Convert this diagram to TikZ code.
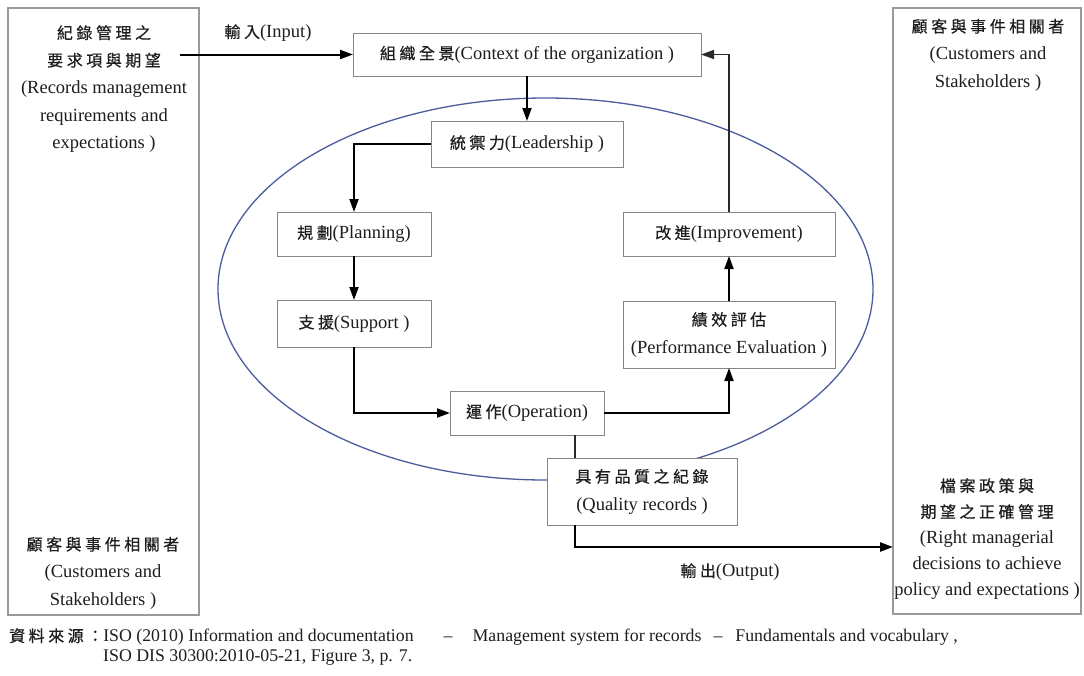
\documentclass[tikz,border=0pt]{standalone}
\usepackage{fontspec}
\setmainfont{Liberation Serif}
\newfontfamily\cjkfont[LetterSpace=22,FakeBold=0.6]{Noto Sans CJK TC}
\newcommand\zh[1]{{\cjkfont\fontsize{16}{27}\selectfont #1}}
\usetikzlibrary{arrows.meta,calc}
\definecolor{ink}{HTML}{1E1E1E}
\definecolor{boxgray}{HTML}{858585}
\definecolor{sidegray}{HTML}{9A9A9A}
\definecolor{ringblue}{HTML}{4D5C9E}
\definecolor{linegray}{HTML}{2A2A2A}

\begin{document}
\begin{tikzpicture}[x=1pt,y=-1pt,
  every node/.style={text=ink, font=\fontsize{18.5}{27.5}\selectfont},
  stepbox/.style={draw=boxgray, line width=1pt, fill=white, inner sep=0pt, outer sep=0pt, align=center},
  sidebox/.style={draw=sidegray, line width=1.4pt, inner sep=0pt, outer sep=0pt},
  flow/.style={draw=black, line width=2pt, -{Triangle[length=13pt,width=9pt]}},
  thinflow/.style={draw=linegray, line width=1.5pt, -{Triangle[length=13pt,width=9pt]}},
  thinline/.style={draw=linegray, line width=1.2pt},
  label/.style={align=center, inner sep=0pt},
  srcline/.style={anchor=west, inner sep=0pt, font=\fontsize{17.8}{20}\selectfont}]

\useasboundingbox (0,0) rectangle (1084,675);
\fill[white] (0,0) rectangle (1084,675);

% the management cycle ring
\draw[ringblue, line width=1.3pt] (545.5,289) ellipse [x radius=327.5, y radius=191];

% side panels
\node[sidebox, minimum width=191pt, minimum height=607pt] (leftbox) at (103.5,311.5) {};
\node[sidebox, minimum width=188pt, minimum height=606pt] (rightbox) at (987,311) {};

\node[label] (reqtxt) at (104,89) {\zh{紀錄管理之}\\\zh{要求項與期望}\\(Records management\\requirements and\\expectations )};
\node[label] (custL) at (103,573) {\zh{顧客與事件相關者}\\(Customers and\\Stakeholders )};
\node[label] (custR) at (988,55) {\zh{顧客與事件相關者}\\(Customers and\\Stakeholders )};
\node[label, font=\fontsize{18.5}{26}\selectfont] (policy) at (987,539) {\zh{檔案政策與}\\\zh{期望之正確管理}\\(Right managerial\\decisions to achieve\\policy and expectations )};

% process steps
\node[stepbox, minimum width=348pt, minimum height=43pt] (ctx) at (527,54.5) {\zh{組織全景}(Context of the organization )};
\node[stepbox, minimum width=192pt, minimum height=46pt] (lead) at (527,144) {\zh{統禦力}(Leadership )};
\node[stepbox, minimum width=154pt, minimum height=44pt] (plan) at (354,234) {\zh{規劃}(Planning)};
\node[stepbox, minimum width=154pt, minimum height=47pt] (supp) at (354,323.5) {\zh{支援}(Support )};
\node[stepbox, minimum width=154pt, minimum height=44pt] (oper) at (527,413) {\zh{運作}(Operation)};
\node[stepbox, minimum width=212pt, minimum height=44pt] (impr) at (729,234) {\zh{改進}(Improvement)};
\node[stepbox, minimum width=212pt, minimum height=67pt] (perf) at (729,334.5) {\zh{績效評估}\\(Performance Evaluation )};

% link from operation down to the records box
\coordinate (qtop) at (575,458);
\draw[thinline] (qtop) -- (qtop |- oper.south);
\node[stepbox, minimum width=190pt, minimum height=67pt] (qual) at (642,491.5) {\zh{具有品質之紀錄}\\(Quality records )};
\coordinate (qbot) at ($(qual.south west)+(28,0)$);

% input and output
\coordinate (inStart) at (180,54.5);
\draw[flow] (inStart) -- (ctx.west);
\node[label] (inLbl) at (268,33) {\zh{輸入}(Input)};
\coordinate (outEnd) at (893,547);
\draw[flow, line width=2.4pt] (qbot) |- (outEnd);
\node[label] (outLbl) at (730,572) {\zh{輸出}(Output)};

% cycle connectors
\draw[flow] (ctx.south) -- (lead.north);
\draw[flow] (lead.west) -| (plan.north);
\draw[flow] (plan.south) -- (supp.north);
\draw[flow] (supp.south) |- (oper.west);
\draw[flow] (oper.east) -| (perf.south);
\draw[flow] (perf.north) -- (impr.south);
\draw[thinflow] (impr.north) |- (ctx.east);

% source line
\node[srcline] (src1) at (9,637) {\zh{資料來源：}ISO (2010) Information and documentation\hspace{30pt}–\hspace{20pt}Management system for records\hspace{12pt}–\hspace{13pt}Fundamentals and vocabulary ,};
\node[srcline] (src2) at (103,657) {ISO DIS 30300:2010-05-21, Figure 3, p. 7.};
\end{tikzpicture}
\end{document}
